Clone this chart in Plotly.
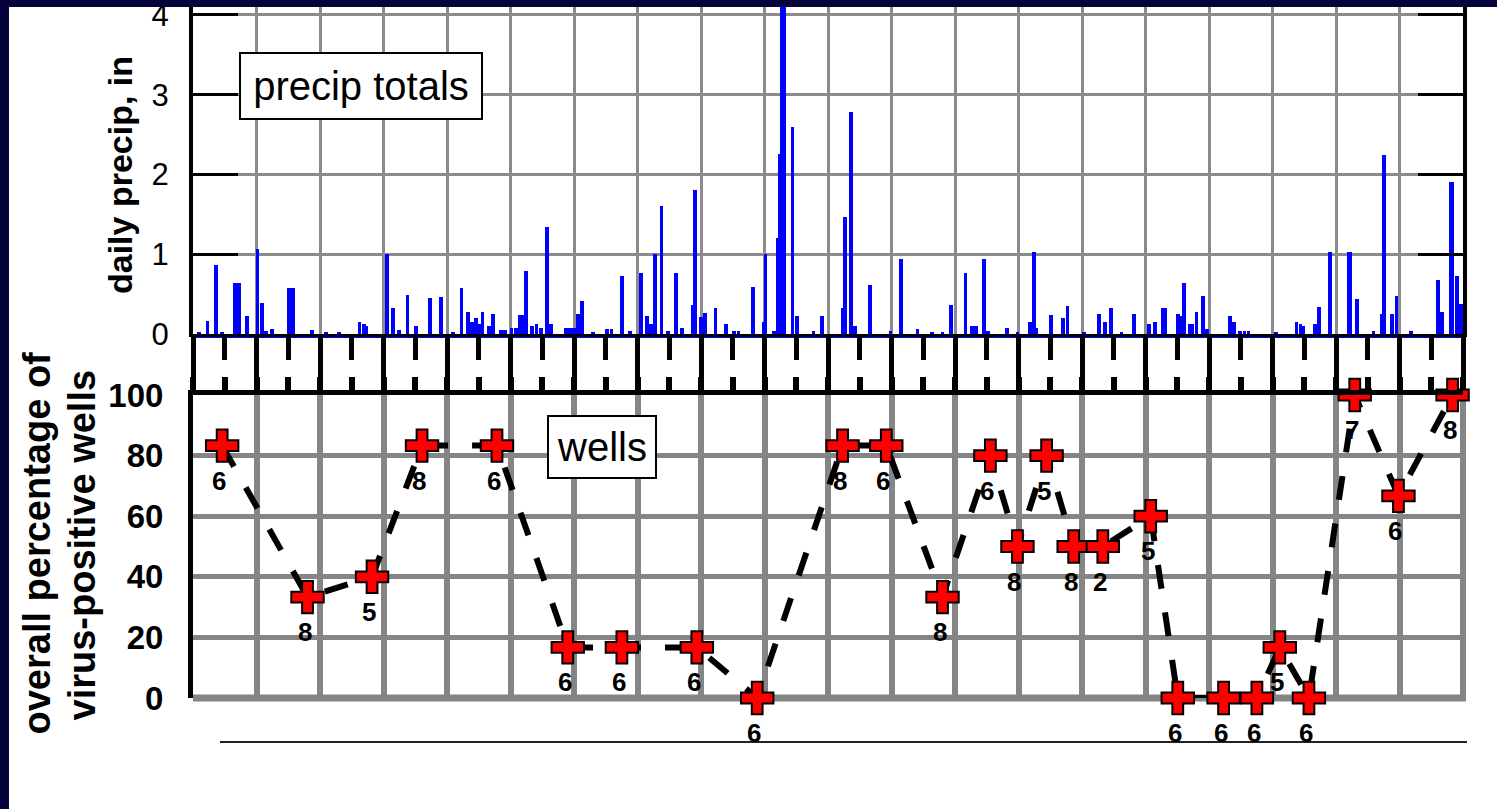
import plotly.graph_objects as go

W, H = 1497, 809

# Time axis: days since the start of the record, gridded by month
MONTH_DAYS = 30.5
N_MONTHS = 20

# Daily precipitation totals (inches), listed only for days with rain
rain_day = [3, 7, 11, 14, 20, 21, 22, 26, 31, 33, 35, 38, 46, 47, 48, 57, 64, 70,
            80, 82, 83, 93, 96, 99, 103, 107, 114, 119, 125, 129, 132, 134, 136,
            138, 139, 142, 144, 148, 150, 153, 155, 157, 159, 160, 163, 165, 167,
            170, 172, 179, 181, 183, 185, 187, 192, 199, 201, 206, 210, 215, 218,
            220, 222, 225, 228, 232, 235, 240, 241, 244, 246, 251, 256, 260, 262,
            269, 274, 275, 279, 281, 282, 283, 284, 288, 290, 298, 302, 312, 313,
            316, 318, 325, 335, 340, 348, 355, 360, 364, 371, 374, 376, 380, 382,
            391, 396, 402, 404, 405, 412, 418, 420, 428, 435, 438, 441, 446, 452,
            459, 462, 466, 467, 473, 474, 476, 479, 480, 482, 485, 487, 498, 500,
            503, 505, 507, 520, 530, 532, 533, 539, 541, 546, 555, 556, 559, 567,
            571, 572, 576, 578, 585, 598, 600, 604, 605, 607, 609]
rain_in = [0.03, 0.16, 0.86, 0.03, 0.64, 0.64, 0.64, 0.23, 1.07, 0.39, 0.04, 0.06,
           0.58, 0.58, 0.58, 0.05, 0.02, 0.02, 0.15, 0.12, 0.10, 1.00, 0.32, 0.05,
           0.49, 0.10, 0.45, 0.46, 0.03, 0.58, 0.28, 0.15, 0.20, 0.12, 0.28, 0.10,
           0.25, 0.05, 0.05, 0.08, 0.08, 0.24, 0.24, 0.79, 0.10, 0.12, 0.08, 1.34,
           0.13, 0.08, 0.08, 0.08, 0.25, 0.42, 0.03, 0.06, 0.06, 0.73, 0.04, 0.76,
           0.22, 0.12, 1.00, 1.61, 0.04, 0.76, 0.08, 0.36, 1.81, 0.21, 0.26, 0.32,
           0.12, 0.04, 0.04, 0.59, 0.15, 1.00, 0.04, 1.21, 2.26, 4.15, 4.15, 2.59,
           0.22, 0.04, 0.23, 0.32, 1.47, 2.78, 0.10, 0.62, 0.04, 0.94, 0.06, 0.02,
           0.02, 0.36, 0.76, 0.10, 0.10, 0.94, 0.04, 0.08, 0.02, 0.15, 1.03, 0.08,
           0.24, 0.20, 0.35, 0.02, 0.25, 0.15, 0.32, 0.02, 0.25, 0.12, 0.15, 0.32,
           0.32, 0.25, 0.22, 0.64, 0.12, 0.12, 0.27, 0.48, 0.06, 0.23, 0.15, 0.04,
           0.04, 0.04, 0.02, 0.15, 0.12, 0.10, 0.12, 0.34, 1.03, 1.03, 1.03, 0.44,
           0.04, 0.25, 2.25, 0.25, 0.48, 0.04, 0.68, 0.28, 1.91, 1.91, 0.73, 0.38]

# Well sampling rounds: overall percentage of virus-positive wells
well_day = [14, 55, 86, 110, 146, 180, 206, 242, 271, 312, 333, 360, 383, 396,
            410, 423, 437, 460, 473, 495, 511, 522, 536, 558, 579, 605]
well_pct = [83.3, 33.3, 40, 83.3, 83.3, 16.7, 16.7, 16.7, 0, 83.3, 83.3, 33.3,
            80, 50, 80, 50, 50, 60, 0, 0, 0, 16.7, 0, 100, 66.7, 100]
# number of wells sampled in each round
well_n = ["6", "8", "5", "8", "6", "6", "6", "6", "6", "8", "6", "8", "6", "8",
          "5", "8", "2", "5", "6", "6", "6", "5", "6", "7", "6", "8"]

Y_TICKS_PRECIP = [0, 1, 2, 3, 4]
Y_TICKS_WELLS = [0, 20, 40, 60, 80, 100]

NAVY = "#03033a"
GRID_TOP = "#8c8c8c"
GRID_BOT = "#858585"
FONT = "Liberation Sans, Arial, sans-serif"


def py(px):
    """Paper y-fraction for a pixel row measured from the top."""
    return (H - px) / H


def px_x(px):
    return px / W


XDOM = [px_x(193), px_x(1463)]
XRANGE = [0, N_MONTHS * MONTH_DAYS]

fig = go.Figure()

fig.add_trace(go.Bar(
    x=rain_day, y=rain_in, width=1.8,
    marker=dict(color="#0000ff", line=dict(width=0)),
    xaxis="x", yaxis="y", hoverinfo="skip", showlegend=False,
))

fig.add_trace(go.Scatter(
    x=well_day, y=well_pct, mode="lines+markers",
    xaxis="x2", yaxis="y2",
    line=dict(color="black", width=6, dash="24px,24px"),
    marker=dict(symbol="cross", size=27, color="#ff0000",
                line=dict(color="black", width=2)),
    cliponaxis=False, hoverinfo="skip", showlegend=False,
))

annotations = []
for d, p, n in zip(well_day, well_pct, well_n):
    annotations.append(dict(
        x=d, y=p, xref="x2", yref="y2", text="<b>%s</b>" % n, showarrow=False,
        xanchor="center", yanchor="middle", xshift=-3, yshift=-35,
        font=dict(family=FONT, size=26, color="black"),
    ))

annotations += [
    dict(x=px_x(360.5), y=py(85.5), xref="paper", yref="paper",
         xanchor="center", yanchor="middle",
         text="precip totals", showarrow=False, width=238, height=62,
         bgcolor="white", bordercolor="black", borderwidth=2, borderpad=1,
         font=dict(family=FONT, size=40, color="black")),
    dict(x=px_x(602), y=py(447), xref="paper", yref="paper",
         xanchor="center", yanchor="middle",
         text="wells", showarrow=False, width=104, height=58,
         bgcolor="white", bordercolor="black", borderwidth=2, borderpad=1,
         font=dict(family=FONT, size=40, color="black")),
    dict(x=px_x(120), y=py(175), xref="paper", yref="paper",
         text="<b>daily precip, in</b>", textangle=-90, showarrow=False,
         xanchor="center", yanchor="middle",
         font=dict(family=FONT, size=34, color="black")),
    dict(x=px_x(36), y=py(737), xref="paper", yref="paper",
         text="<b>overall percentage of</b>", textangle=-90, showarrow=False,
         xanchor="center", yanchor="bottom",
         font=dict(family=FONT, size=38, color="black")),
    dict(x=px_x(81), y=py(723), xref="paper", yref="paper",
         text="<b>virus-positive wells</b>", textangle=-90, showarrow=False,
         xanchor="center", yanchor="bottom",
         font=dict(family=FONT, size=38, color="black")),
]

shapes = [
    # blue rim under the precipitation baseline
    dict(type="line", xref="paper", yref="paper", layer="below",
         x0=px_x(193), x1=px_x(1463), y0=py(336.5), y1=py(336.5),
         line=dict(color="#0000ff", width=3)),
    # grey frame edges of the wells panel
    dict(type="line", xref="paper", yref="paper", layer="below",
         x0=px_x(193), x1=px_x(1466), y0=py(698), y1=py(698),
         line=dict(color=GRID_BOT, width=7)),
    dict(type="line", xref="paper", yref="paper", layer="below",
         x0=px_x(1463), x1=px_x(1463), y0=py(395), y1=py(701),
         line=dict(color=GRID_BOT, width=6)),
    # baseline under the wells panel
    dict(type="line", xref="paper", yref="paper",
         x0=px_x(220), x1=px_x(1467), y0=py(742), y1=py(742),
         line=dict(color="#222222", width=2)),
    # navy slide border
    dict(type="rect", xref="paper", yref="paper", layer="above",
         x0=0, x1=1, y0=py(7), y1=1, line=dict(width=0), fillcolor=NAVY),
    dict(type="rect", xref="paper", yref="paper", layer="above",
         x0=0, x1=px_x(9), y0=0, y1=1, line=dict(width=0), fillcolor=NAVY),
]

fig.update_layout(
    width=W, height=H, margin=dict(l=0, r=0, t=0, b=0, autoexpand=False),
    paper_bgcolor="white", plot_bgcolor="white", showlegend=False,
    bargap=0,
    xaxis=dict(
        domain=XDOM, anchor="y", range=XRANGE, tick0=0, dtick=MONTH_DAYS,
        showgrid=True, gridcolor=GRID_TOP, gridwidth=3,
        showline=True, linecolor="black", linewidth=3,
        ticks="outside", ticklen=45, tickwidth=5, tickcolor="black",
        minor=dict(tick0=0, dtick=MONTH_DAYS / 2, ticks="outside", ticklen=23,
                   tickwidth=5, tickcolor="black", showgrid=False),
        showticklabels=False, zeroline=False, fixedrange=True, automargin=False,
    ),
    yaxis=dict(
        domain=[py(334), py(7)], anchor="x", range=[0, 4.1],
        tickvals=Y_TICKS_PRECIP, showgrid=True, gridcolor=GRID_TOP, gridwidth=3,
        showline=True, linecolor="black", linewidth=4, mirror="ticks",
        ticks="inside", ticklen=45, tickwidth=3, tickcolor="black",
        tickfont=dict(family=FONT, size=31, color="black"),
        ticklabelstandoff=14, ticklabeloverflow="allow",
        zeroline=False, fixedrange=True, automargin=False,
    ),
    xaxis2=dict(
        domain=XDOM, anchor="y2", side="top", range=XRANGE, tick0=0,
        dtick=MONTH_DAYS, showgrid=True, gridcolor=GRID_BOT, gridwidth=6,
        showline=True, linecolor="black", linewidth=5,
        ticks="outside", ticklen=13, tickwidth=6, tickcolor="black",
        minor=dict(tick0=0, dtick=MONTH_DAYS / 2, ticks="outside", ticklen=13,
                   tickwidth=6, tickcolor="black", showgrid=False),
        showticklabels=False, zeroline=False, fixedrange=True, automargin=False,
    ),
    yaxis2=dict(
        domain=[py(698), py(395)], anchor="x2", range=[0, 100],
        tickvals=Y_TICKS_WELLS, showgrid=True, gridcolor=GRID_BOT, gridwidth=5,
        showline=True, linecolor="black", linewidth=5, ticks="",
        tickfont=dict(family=FONT, size=33, color="black", weight="bold"),
        ticklabelstandoff=18, ticklabeloverflow="allow",
        zeroline=False, fixedrange=True, automargin=False,
    ),
    annotations=annotations,
    shapes=shapes,
)

fig.write_html("out.html")
